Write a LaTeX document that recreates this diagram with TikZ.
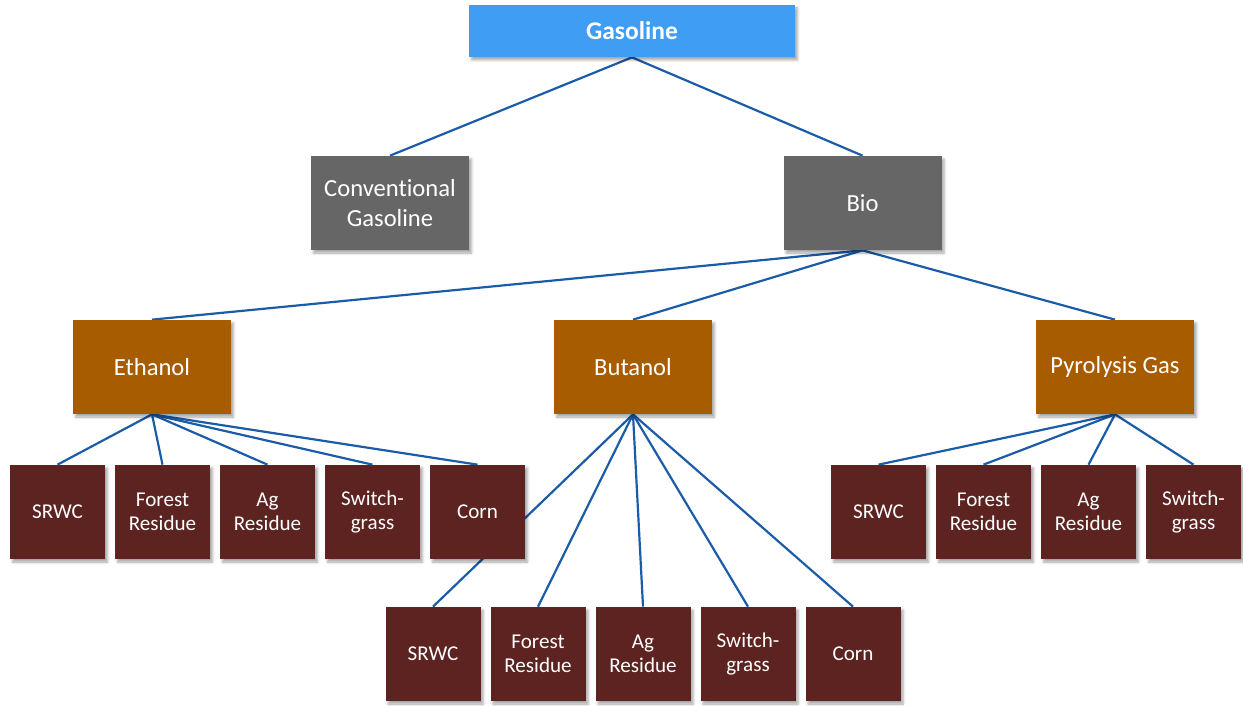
\documentclass[tikz,border=0pt]{standalone}
\usepackage{fontspec}
\setmainfont{Carlito}[Ligatures=NoCommon]
\usetikzlibrary{positioning, backgrounds, shadows.blur}
\definecolor{skyblue}{HTML}{3F9EF4}
\definecolor{slategray}{HTML}{666666}
\definecolor{amberdark}{HTML}{A85C00}
\definecolor{maroonleaf}{HTML}{5C2320}
\definecolor{linkblue}{HTML}{1B5CA8}

\tikzset{
  box/.style={draw=none, text=white, align=center, inner sep=0pt,
    blur shadow={shadow xshift=0.05cm, shadow yshift=-0.06cm, shadow blur radius=0.05cm, shadow opacity=35}},
  rootbox/.style={box, fill=skyblue, minimum width=6.52cm, minimum height=1.04cm, font=\fontsize{14.5}{15}\selectfont\bfseries},
  kindbox/.style={box, fill=slategray, minimum width=3.16cm, minimum height=1.88cm, font=\fontsize{14}{17}\selectfont},
  fuelbox/.style={box, fill=amberdark, minimum width=3.16cm, minimum height=1.88cm, font=\fontsize{14}{17}\selectfont},
  leafbox/.style={box, fill=maroonleaf, minimum width=1.9cm, minimum height=1.88cm, font=\fontsize{12}{14}\selectfont},
  link/.style={draw=linkblue, line width=1.25pt}
}

\begin{document}
\begin{tikzpicture}
  \useasboundingbox (0,0) rectangle (24.86,-14.12);

  % Top of the tree
  \node[rootbox] (gasoline) at (12.64,-0.62) {Gasoline};

  % Second level
  \node[kindbox] (conv) at (7.80,-4.06) {Conventional\\Gasoline};
  \node[kindbox] (bio) at (17.25,-4.06) {Bio};

  % Fuels
  \node[fuelbox] (ethanol) at (3.04,-7.34) {Ethanol};
  \node[fuelbox] (butanol) at (12.66,-7.34) {Butanol};
  \node[fuelbox] (pyro) at (22.30,-7.34) {Pyrolysis Gas};

  % Feedstocks under Ethanol
  \foreach \x/\txt [count=\i] in {1.15/SRWC, 3.25/{Forest\\Residue}, 5.35/{Ag\\Residue}, 7.45/{Switch-\\grass}, 9.55/Corn}
    \node[leafbox] (eth\i) at (\x,-10.24) {\txt};

  % Feedstocks under Pyrolysis Gas
  \foreach \x/\txt [count=\i] in {17.57/SRWC, 19.67/{Forest\\Residue}, 21.77/{Ag\\Residue}, 23.87/{Switch-\\grass}}
    \node[leafbox] (pyr\i) at (\x,-10.24) {\txt};

  % Feedstocks under Butanol
  \foreach \x/\txt [count=\i] in {8.66/SRWC, 10.76/{Forest\\Residue}, 12.86/{Ag\\Residue}, 14.96/{Switch-\\grass}, 17.06/Corn}
    \node[leafbox] (but\i) at (\x,-13.08) {\txt};

  % Connectors go behind the boxes
  \begin{scope}[on background layer]
    \draw[link] (gasoline.south) -- (conv.north);
    \draw[link] (gasoline.south) -- (bio.north);
    \foreach \f in {ethanol, butanol, pyro}
      \draw[link] (bio.south) -- (\f.north);
    \foreach \i in {1,...,5}
      \draw[link] (ethanol.south) -- (eth\i.north);
    \foreach \i in {1,...,4}
      \draw[link] (pyro.south) -- (pyr\i.north);
    \foreach \i in {1,...,5}
      \draw[link] (butanol.south) -- (but\i.north);
  \end{scope}
\end{tikzpicture}
\end{document}
